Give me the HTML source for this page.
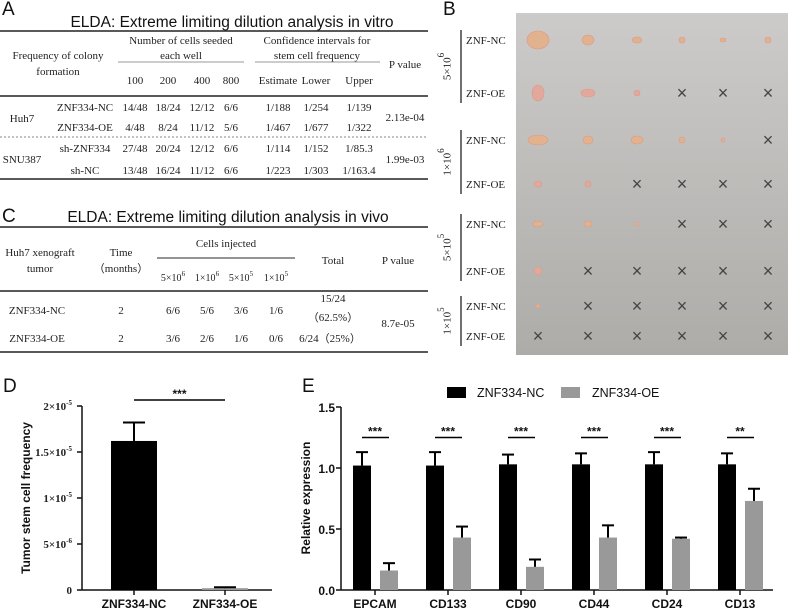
<!DOCTYPE html>
<html><head><meta charset="utf-8"><style>
html,body{margin:0;padding:0;background:#fff}
svg{display:block}
.s{font-family:"Liberation Serif",serif;font-size:11px;fill:#222}
.t{font-family:"Liberation Sans",sans-serif;font-size:15.5px;fill:#111}
.L{font-family:"Liberation Sans",sans-serif;font-size:19px;fill:#111}
.b{font-family:"Liberation Sans",sans-serif;font-weight:bold;font-size:12px;fill:#111}
</style></head><body>
<svg id="fig" width="788" height="610" viewBox="0 0 788 610" xmlns="http://www.w3.org/2000/svg">
<defs><linearGradient id="bg" x1="0" y1="0" x2="0" y2="1"><stop offset="0" stop-color="#cdcbc9"/><stop offset="1" stop-color="#aeaca9"/></linearGradient></defs>
<!-- Panel A -->
<g>
<text class="L" x="2" y="15">A</text>
<text class="t" x="232" y="27" text-anchor="middle">ELDA: Extreme limiting dilution analysis in vitro</text>
<line x1="0" y1="31" x2="428" y2="31" stroke="#222" stroke-width="1.5"/>
<text class="s" x="58" y="59" text-anchor="middle">Frequency of colony</text>
<text class="s" x="58" y="75" text-anchor="middle">formation</text>
<text class="s" x="181" y="44" text-anchor="middle">Number of cells seeded</text>
<text class="s" x="181" y="59" text-anchor="middle">each well</text>
<line x1="118" y1="62" x2="244" y2="62" stroke="#999" stroke-width="1"/>
<text class="s" x="317" y="44" text-anchor="middle">Confidence intervals for</text>
<text class="s" x="317" y="59" text-anchor="middle">stem cell frequency</text>
<line x1="255" y1="62" x2="380" y2="62" stroke="#999" stroke-width="1"/>
<text class="s" x="405" y="68" text-anchor="middle">P value</text>
<g text-anchor="middle" class="s">
<text x="135" y="84">100</text><text x="168" y="84">200</text><text x="202" y="84">400</text><text x="231" y="84">800</text>
<text x="278" y="84">Estimate</text><text x="316" y="84">Lower</text><text x="359" y="84">Upper</text>
</g>
<line x1="0" y1="96" x2="428" y2="96" stroke="#222" stroke-width="1.5"/>
<g class="s" text-anchor="middle">
<text x="22" y="122">Huh7</text>
<text x="85" y="111">ZNF334-NC</text><text x="135" y="111">14/48</text><text x="168" y="111">18/24</text><text x="202" y="111">12/12</text><text x="231" y="111">6/6</text><text x="278" y="111">1/188</text><text x="316" y="111">1/254</text><text x="359" y="111">1/139</text>
<text x="85" y="131">ZNF334-OE</text><text x="135" y="131">4/48</text><text x="168" y="131">8/24</text><text x="202" y="131">11/12</text><text x="231" y="131">5/6</text><text x="278" y="131">1/467</text><text x="316" y="131">1/677</text><text x="359" y="131">1/322</text>
<text x="405" y="121">2.13e-04</text>
<text x="22" y="163">SNU387</text>
<text x="85" y="152">sh-ZNF334</text><text x="135" y="152">27/48</text><text x="168" y="152">20/24</text><text x="202" y="152">12/12</text><text x="231" y="152">6/6</text><text x="278" y="152">1/114</text><text x="316" y="152">1/152</text><text x="359" y="152">1/85.3</text>
<text x="85" y="174">sh-NC</text><text x="135" y="174">13/48</text><text x="168" y="174">16/24</text><text x="202" y="174">11/12</text><text x="231" y="174">6/6</text><text x="278" y="174">1/223</text><text x="316" y="174">1/303</text><text x="359" y="174">1/163.4</text>
<text x="405" y="163">1.99e-03</text>
</g>
<line x1="0" y1="137" x2="428" y2="137" stroke="#888" stroke-width="1" stroke-dasharray="2,2"/>
<line x1="0" y1="179" x2="428" y2="179" stroke="#222" stroke-width="1.5"/>
</g>
<!-- Panel C -->
<g>
<text class="L" x="2" y="222">C</text>
<text class="t" x="228" y="222" text-anchor="middle">ELDA: Extreme limiting dilution analysis in vivo</text>
<line x1="0" y1="227" x2="428" y2="227" stroke="#222" stroke-width="1.5"/>
<g class="s" text-anchor="middle">
<text x="40" y="256">Huh7 xenograft</text><text x="40" y="272">tumor</text>
<text x="121" y="256">Time</text><text x="121" y="272">（months）</text>
<text x="226" y="247">Cells injected</text>
<text x="333" y="264">Total</text><text x="398" y="264">P value</text>
<text x="173" y="281" font-size="10">5×10<tspan dy="-5" font-size="7">6</tspan></text>
<text x="207" y="281" font-size="10">1×10<tspan dy="-5" font-size="7">6</tspan></text>
<text x="241" y="281" font-size="10">5×10<tspan dy="-5" font-size="7">5</tspan></text>
<text x="276" y="281" font-size="10">1×10<tspan dy="-5" font-size="7">5</tspan></text>
<text x="37" y="314">ZNF334-NC</text><text x="121" y="314">2</text><text x="173" y="314">6/6</text><text x="207" y="314">5/6</text><text x="241" y="314">3/6</text><text x="276" y="314">1/6</text>
<text x="333" y="302">15/24</text><text x="333" y="321">（62.5%）</text>
<text x="37" y="342">ZNF334-OE</text><text x="121" y="342">2</text><text x="173" y="342">3/6</text><text x="207" y="342">2/6</text><text x="241" y="342">1/6</text><text x="276" y="342">0/6</text>
<text x="330" y="342">6/24（25%）</text>
<text x="398" y="327">8.7e-05</text>
</g>
<line x1="157" y1="258" x2="295" y2="258" stroke="#555" stroke-width="1.2"/>
<line x1="0" y1="291" x2="428" y2="291" stroke="#222" stroke-width="1.5"/>
<line x1="0" y1="352" x2="428" y2="352" stroke="#222" stroke-width="1.5"/>
</g>
<!-- Panel B -->
<g>
<text class="L" x="443" y="15">B</text>
<rect x="516" y="13" width="272" height="342" fill="url(#bg)"/>
<g id="bgroups"></g>
<g id="tumors"></g>
</g>
<!-- Panel D -->
<text class="L" x="3" y="392">D</text>
<g id="chartD"></g>
<!-- Panel E -->
<text class="L" x="302" y="392">E</text>
<g id="chartE"></g>
</svg>
<script>
const NS="http://www.w3.org/2000/svg";
function mk(p,tag,a,txt){const e=document.createElementNS(NS,tag);for(const k in a)e.setAttribute(k,a[k]);if(txt!==undefined)e.textContent=txt;p.appendChild(e);return e;}

// ---- Panel B (photo) ----
const bCols=[538,588,637,682,723,768];
const bRows=[40,93,140,184,224,271,306,336];
const bRowNames=["ZNF-NC","ZNF-OE","ZNF-NC","ZNF-OE","ZNF-NC","ZNF-OE","ZNF-NC","ZNF-OE"];
const bDoses=["5×10","1×10","5×10","1×10"];
const bExp=["6","6","5","5"];
// tumor sizes [rx,ry] per row; 0 = none (×)
const bSizes=[
 [[11,9],[6,5],[5,3],[3,3],[3,2],[3,3]],
 [[6,8],[7,4],[3,3],0,0,0],
 [[10,5],[5,4],[6,4],[3,3],[2,2],0],
 [[4,3],[3,3],0,0,0,0],
 [[5,3],[4,3],[2,2],0,0,0],
 [[4,4],0,0,0,0,0],
 [[2,2],0,0,0,0,0],
 [0,0,0,0,0,0]];
const bg=document.getElementById('bgroups');
for(let g=0;g<4;g++){
 const y1=bRows[2*g]-6,y2=bRows[2*g+1]+6,ym=(y1+y2)/2;
 mk(bg,'line',{x1:461,y1:y1-4,x2:461,y2:y2+4,stroke:'#222','stroke-width':1.3});
 const t=mk(bg,'text',{x:448,y:ym,'text-anchor':'middle',transform:`rotate(-90 448 ${ym})`,'class':'s','font-size':'14','dominant-baseline':'middle'});
 
 
 t.appendChild(document.createTextNode(bDoses[g]));
 mk(t,'tspan',{dy:-6,'font-size':'9'},bExp[g]);
}
bRows.forEach((y,i)=>{
 const t=mk(bg,'text',{x:466,y:y+4,'class':'s','font-size':'11.5'},bRowNames[i]);
 
 
});
const tg=document.getElementById('tumors');
bSizes.forEach((row,i)=>row.forEach((s,j)=>{
 const x=bCols[j],y=bRows[i];
 if(s){const e=mk(tg,'ellipse',{cx:x,cy:y,rx:s[0],ry:s[1],fill:i%2?'#e3a89c':'#e2b28e',stroke:'#d99a88','stroke-width':0.6});
  
  }
 else{const t=mk(tg,'text',{x:x,y:y+6,'text-anchor':'middle','font-family':'Liberation Sans, sans-serif','font-size':'18',fill:'#444'},'×');
  
  }
}));

// ---- Panel D ----
const dCats=["ZNF334-NC","ZNF334-OE"];
const dVals=[1.62e-5,0.02e-5];
const dErr=[0.20e-5,0.01e-5];
const dTicks=[0,5e-6,1e-5,1.5e-5,2e-5];
const dTickLabels=[["0",""],["5×10","-6"],["1×10","-5"],["1.5×10","-5"],["2×10","-5"]];
(function(){
 const g=document.getElementById('chartD');
 const x0=82,x1=272,y0=590,yTop=406,max=2e-5;
 const Y=v=>y0-(v/max)*(y0-yTop);
 const X=i=>134+i*91;
 mk(g,'line',{x1:x0,y1:yTop,x2:x0,y2:y0,stroke:'#111','stroke-width':1.5});
 mk(g,'line',{x1:x0,y1:y0,x2:x1,y2:y0,stroke:'#111','stroke-width':1.5});
 dTicks.forEach((v,i)=>{
  mk(g,'line',{x1:x0-5,y1:Y(v),x2:x0,y2:Y(v),stroke:'#111','stroke-width':1.5});
  const t=mk(g,'text',{x:x0-10,y:Y(v)+4,'text-anchor':'end','class':'s','font-size':'11.5','font-weight':'bold'});
  
  
  t.appendChild(document.createTextNode(dTickLabels[i][0]));
  if(dTickLabels[i][1])mk(t,'tspan',{dy:-5,'font-size':'7'},dTickLabels[i][1]);
 });
 dCats.forEach((c,i)=>{
  const cx=X(i),w=46;
  const r=mk(g,'rect',{x:cx-w/2,y:Y(dVals[i]),width:w,height:Math.max(y0-Y(dVals[i]),1),fill:i?'#999':'#000'});
  
  
  const ye=Y(dVals[i]+dErr[i]);
  mk(g,'line',{x1:cx,y1:Y(dVals[i]),x2:cx,y2:ye,stroke:'#000','stroke-width':2});
  mk(g,'line',{x1:cx-11,y1:ye,x2:cx+11,y2:ye,stroke:'#000','stroke-width':2});
  mk(g,'line',{x1:cx,y1:y0,x2:cx,y2:y0+5,stroke:'#111','stroke-width':1.5});
  const t=mk(g,'text',{x:cx,y:608,'text-anchor':'middle','class':'b','font-size':'13.5'},c);
  
  
 });
 mk(g,'line',{x1:X(0),y1:400,x2:X(1),y2:400,stroke:'#000','stroke-width':1.5});
 const s=mk(g,'text',{x:(X(0)+X(1))/2,y:398,'text-anchor':'middle','class':'b','font-size':'15'},'***');
 
 
 const yt=mk(g,'text',{x:30,y:498,'text-anchor':'middle','class':'b','font-size':'14',transform:'rotate(-90 30 498)'},'Tumor stem cell frequency');
 
 
})();

// ---- Panel E ----
const eCats=["EPCAM","CD133","CD90","CD44","CD24","CD13"];
const eNC=[1.02,1.02,1.03,1.03,1.03,1.03];
const eNCerr=[0.11,0.11,0.08,0.09,0.10,0.09];
const eOE=[0.16,0.43,0.19,0.43,0.42,0.73];
const eOEerr=[0.06,0.09,0.06,0.10,0.01,0.10];
const eSig=["***","***","***","***","***","**"];
const eTicks=[0,0.5,1.0,1.5];
(function(){
 const g=document.getElementById('chartE');
 const x0=341,x1=773,y0=590,yTop=407,max=1.5;
 const Y=v=>y0-(v/max)*(y0-yTop);
 const X=i=>375+i*73;
 mk(g,'line',{x1:x0,y1:yTop,x2:x0,y2:y0,stroke:'#111','stroke-width':1.5});
 mk(g,'line',{x1:x0,y1:y0,x2:x1,y2:y0,stroke:'#111','stroke-width':1.5});
 eTicks.forEach(v=>{
  mk(g,'line',{x1:x0-5,y1:Y(v),x2:x0,y2:Y(v),stroke:'#111','stroke-width':1.5});
  const t=mk(g,'text',{x:x0-6,y:Y(v)+5,'text-anchor':'end','class':'b','font-size':'14'},v.toFixed(1));
  
  
 });
 const yt=mk(g,'text',{x:310,y:498,'text-anchor':'middle','class':'b','font-size':'14',transform:'rotate(-90 310 498)'},'Relative expression');
 
 
 eCats.forEach((c,i)=>{
  const cx=X(i),w=18;
  [[eNC,eNCerr,-13,'#000','nc'],[eOE,eOEerr,14,'#999','oe']].forEach(s=>{
   const v=s[0][i],e=s[1][i],bx=cx+s[2];
   const r=mk(g,'rect',{x:bx-w/2,y:Y(v),width:w,height:y0-Y(v),fill:s[3]});
   
   
   const ye=Y(v+e);
   mk(g,'line',{x1:bx,y1:Y(v),x2:bx,y2:ye,stroke:'#000','stroke-width':2});
   mk(g,'line',{x1:bx-6,y1:ye,x2:bx+6,y2:ye,stroke:'#000','stroke-width':2});
  });
  mk(g,'line',{x1:cx,y1:y0,x2:cx,y2:y0+5,stroke:'#111','stroke-width':1.5});
  const t=mk(g,'text',{x:cx,y:608,'text-anchor':'middle','class':'b','font-size':'13.5'},c);
  
  
  mk(g,'line',{x1:cx-13,y1:Y(1.25),x2:cx+14,y2:Y(1.25),stroke:'#000','stroke-width':1.5});
  const st=mk(g,'text',{x:cx,y:Y(1.25)-2,'text-anchor':'middle','class':'b','font-size':'9'},eSig[i]);
  
  
 });
 const lg=mk(g,'g',{});
 
 
 mk(lg,'rect',{x:447,y:387,width:19,height:11,fill:'#000'});
 mk(lg,'text',{x:477,y:397,'font-family':'Liberation Sans, sans-serif','font-size':'12.5',fill:'#111'},'ZNF334-NC');
 mk(lg,'rect',{x:561,y:387,width:19,height:11,fill:'#999'});
 mk(lg,'text',{x:592,y:397,'font-family':'Liberation Sans, sans-serif','font-size':'12.5',fill:'#111'},'ZNF334-OE');
})();
</script>
</body></html>
